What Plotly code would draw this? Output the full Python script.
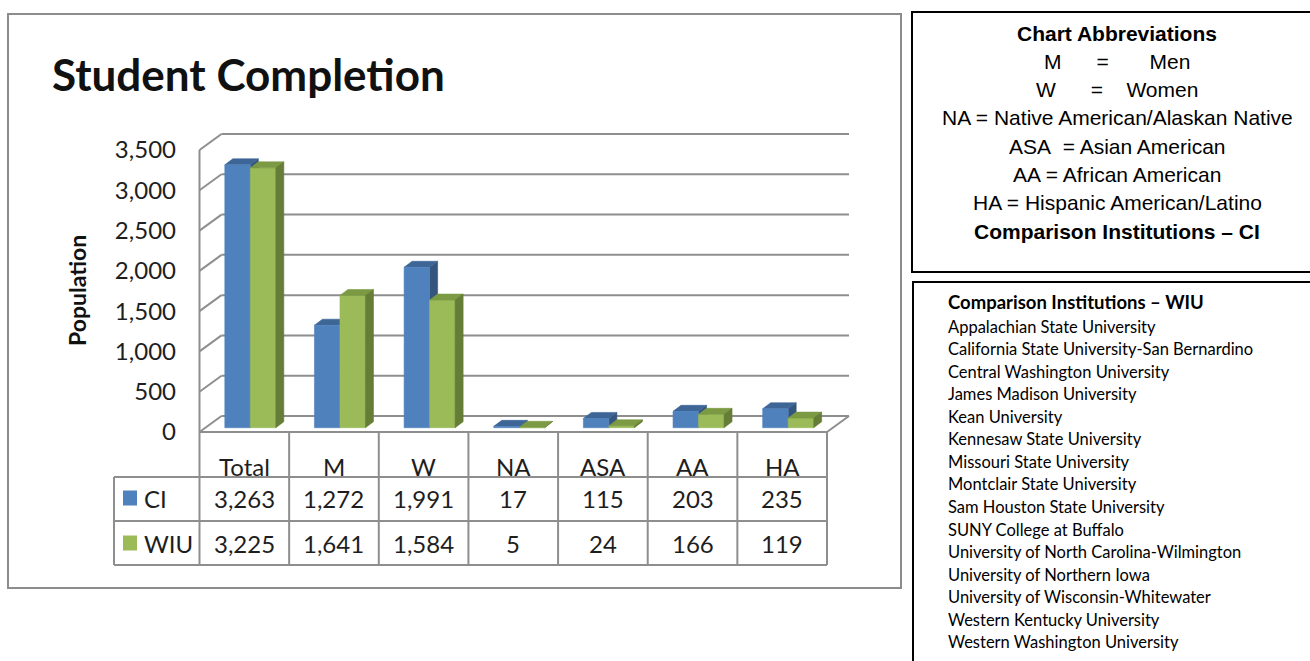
import plotly.graph_objects as go

# ---------------- data ----------------
categories = ["Total", "M", "W", "NA", "ASA", "AA", "HA"]
ci_values = [3263, 1272, 1991, 17, 115, 203, 235]
wiu_values = [3225, 1641, 1584, 5, 24, 166, 119]
series_names = ["CI", "WIU"]
y_ticks = [0, 500, 1000, 1500, 2000, 2500, 3000, 3500]
chart_title = "Student Completion"
y_title = "Population"

abbrev_lines = [
    "<b>Chart Abbreviations</b>",
    "M\u00a0\u00a0\u00a0\u00a0\u00a0\u00a0=\u00a0\u00a0\u00a0\u00a0\u00a0\u00a0\u00a0Men",
    "W\u00a0\u00a0\u00a0\u00a0\u00a0\u00a0=\u00a0\u00a0\u00a0\u00a0Women",
    "NA = Native American/Alaskan Native",
    "ASA\u00a0 = Asian American",
    "AA = African American",
    "HA = Hispanic American/Latino",
    "<b>Comparison Institutions \u2013 CI</b>",
]
wiu_title = "Comparison Institutions \u2013 WIU"
institutions = [
    "Appalachian State University",
    "California State University-San Bernardino",
    "Central Washington University",
    "James Madison University",
    "Kean University",
    "Kennesaw State University",
    "Missouri State University",
    "Montclair State University",
    "Sam Houston State University",
    "SUNY College at Buffalo",
    "University of North Carolina-Wilmington",
    "University of Northern Iowa",
    "University of Wisconsin-Whitewater",
    "Western Kentucky University",
    "Western Washington University",
]

# ---------------- geometry (pixels) ----------------
W, H = 1310, 661
FLOOR_L, FLOOR_R = 199.5, 827.0
ZERO_Y = 432.0
KV = 282.0 / 3500.0                      # px per value unit
U = (FLOOR_R - FLOOR_L) / len(categories)  # px per category
AX_L, AX_R, AX_T, AX_B = 177.0, 905.0, 100.0, 600.0


def px_x(c):
    return FLOOR_L + (c + 0.5) * U


def pxx(p):
    return p / W


def pxy(p):
    return 1 - p / H


# depth offsets in data units
BX, BY = 22.0 / U, 16.0 / KV          # back wall
SX, SY = 6.0 / U, 4.3 / KV            # bar front plane
DDX, DDY = 8.0 / U, 6.0 / KV          # bar depth
BW = 25.5 / U                         # bar width

xr = [-0.5 + (AX_L - FLOOR_L) / U, -0.5 + (AX_R - FLOOR_L) / U]
yr = [(ZERO_Y - AX_B) / KV, (ZERO_Y - AX_T) / KV]

GRID = "#8e8e8e"
fig = go.Figure()

# ---------------- 3D walls / gridlines ----------------
n = len(categories)
gx, gy = [], []
for t in y_ticks:
    gx += [-0.5 + BX, n - 0.5 + BX, None]
    gy += [t + BY, t + BY, None]
    gx += [-0.5, -0.5 + BX, None]
    gy += [t, t + BY, None]
gx += [-0.5, -0.5, None, -0.5, n - 0.5, None, n - 0.5, n - 0.5 + BX, None]
gy += [y_ticks[-1], 0, None, 0, 0, None, 0, BY, None]
fig.add_trace(go.Scatter(x=gx, y=gy, mode="lines", line=dict(color=GRID, width=2),
                         hoverinfo="skip", showlegend=False))


# ---------------- bars ----------------
def faces(values, left_offset):
    fx, fy, tx, ty, sx_, sy_ = [], [], [], [], [], []
    for i, v in enumerate(values):
        xl = i + left_offset + SX
        xr_ = xl + BW
        b = SY
        top = SY + v
        fx += [xl, xr_, xr_, xl, xl, None]
        fy += [b, b, top, top, b, None]
        tx += [xl, xr_, xr_ + DDX, xl + DDX, xl, None]
        ty += [top, top, top + DDY, top + DDY, top, None]
        sx_ += [xr_, xr_ + DDX, xr_ + DDX, xr_, xr_, None]
        sy_ += [b, b + DDY, top + DDY, top, b, None]
    return (fx, fy), (tx, ty), (sx_, sy_)


def poly(xy, color, name):
    return go.Scatter(x=xy[0], y=xy[1], mode="lines", fill="toself", fillcolor=color,
                      line=dict(color=color, width=0.6), name=name,
                      hoverinfo="skip", showlegend=False)


ci_f, ci_t, ci_s = faces(ci_values, -BW)
wi_f, wi_t, wi_s = faces(wiu_values, 0.0)
fig.add_trace(poly(ci_s, "#34557e", "CI side"))
fig.add_trace(poly(ci_t, "#3d6596", "CI top"))
fig.add_trace(poly(ci_f, "#4f81bd", "CI"))
fig.add_trace(poly(wi_f, "#9bbb59", "WIU"))
fig.add_trace(poly(wi_t, "#7b9a43", "WIU top"))
fig.add_trace(poly(wi_s, "#657d36", "WIU side"))

shapes = []
annotations = []

# ---------------- outer chart border ----------------
shapes.append(dict(type="rect", xref="paper", yref="paper",
                   x0=pxx(8), x1=pxx(901), y0=pxy(14), y1=pxy(588),
                   line=dict(color="#8c8c8c", width=2)))

# ---------------- data table ----------------
ROW_TOP, ROW1, ROW2, ROW_BOT = ZERO_Y, 477.0, 521.0, 565.0
LEG_L = 114.0
for yy in (ROW1, ROW2, ROW_BOT):
    shapes.append(dict(type="line", xref="paper", yref="paper",
                       x0=pxx(LEG_L), x1=pxx(px_x(n - 0.5)), y0=pxy(yy), y1=pxy(yy),
                       line=dict(color=GRID, width=2)))
shapes.append(dict(type="line", xref="paper", yref="paper",
                   x0=pxx(LEG_L), x1=pxx(LEG_L), y0=pxy(ROW1), y1=pxy(ROW_BOT),
                   line=dict(color=GRID, width=2)))
for i in range(n + 1):
    xx = px_x(i - 0.5)
    shapes.append(dict(type="line", xref="paper", yref="paper",
                       x0=pxx(xx), x1=pxx(xx), y0=pxy(ROW_TOP), y1=pxy(ROW_BOT),
                       line=dict(color=GRID, width=2)))

TFONT = dict(family="Lato", size=24, color="#1e1e1e")
row_centers = [(ROW1 + ROW2) / 2 - 1, (ROW2 + ROW_BOT) / 2]
for i, c in enumerate(categories):
    annotations.append(dict(x=i, y=pxy(466), xref="x", yref="paper", text=c,
                            showarrow=False, font=TFONT, xanchor="center", yanchor="middle"))
    for r, vals in enumerate((ci_values, wiu_values)):
        annotations.append(dict(x=i, y=pxy(row_centers[r]), xref="x", yref="paper",
                                text=f"{vals[i]:,}", showarrow=False, font=TFONT,
                                xanchor="center", yanchor="middle"))
for r, (nm, col) in enumerate(zip(series_names, ["#4f81bd", "#9bbb59"])):
    cy = row_centers[r]
    shapes.append(dict(type="rect", xref="paper", yref="paper",
                       x0=pxx(123), x1=pxx(137), y0=pxy(cy - 7.5), y1=pxy(cy + 7.5),
                       fillcolor=col, line=dict(width=0)))
    annotations.append(dict(x=pxx(142), y=pxy(cy), xref="paper", yref="paper", text=nm,
                            showarrow=False, font=TFONT, xanchor="left", yanchor="middle"))

# ---------------- titles ----------------
annotations.append(dict(x=pxx(50), y=pxy(74), xref="paper", yref="paper", text=f"<b>{chart_title}</b>",
                        showarrow=False, font=dict(family="Lato", size=44, color="#111"),
                        xanchor="left", yanchor="middle"))
annotations.append(dict(x=pxx(77), y=pxy(291), xref="paper", yref="paper", text=f"<b>{y_title}</b>",
                        showarrow=False, textangle=-90, font=dict(family="Lato", size=23, color="#111"),
                        xanchor="center", yanchor="middle"))

# ---------------- right boxes ----------------
shapes.append(dict(type="rect", xref="paper", yref="paper",
                   x0=pxx(912), x1=pxx(1320), y0=pxy(12), y1=pxy(272),
                   line=dict(color="#000", width=2)))
shapes.append(dict(type="rect", xref="paper", yref="paper",
                   x0=pxx(913), x1=pxx(1320), y0=pxy(282), y1=pxy(670),
                   line=dict(color="#000", width=2)))
for k, line in enumerate(abbrev_lines):
    annotations.append(dict(x=pxx(1117), y=pxy(33 + k * 28.3), xref="paper", yref="paper",
                            text=line, showarrow=False,
                            font=dict(family="Liberation Sans", size=21, color="#000"),
                            xanchor="center", yanchor="middle"))
annotations.append(dict(x=pxx(946), y=pxy(302), xref="paper", yref="paper",
                        text=f"<b>{wiu_title}</b>", showarrow=False,
                        font=dict(family="Lato", size=18.5, color="#000"),
                        xanchor="left", yanchor="middle"))
for k, name in enumerate(institutions):
    annotations.append(dict(x=pxx(946), y=pxy(327 + k * 22.5), xref="paper", yref="paper",
                            text=name, showarrow=False,
                            font=dict(family="Lato", size=16.5, color="#000"),
                            xanchor="left", yanchor="middle"))

fig.update_layout(
    width=W, height=H,
    margin=dict(l=0, r=0, t=0, b=0),
    paper_bgcolor="white", plot_bgcolor="white",
    showlegend=False,
    xaxis=dict(domain=[pxx(AX_L), pxx(AX_R)], range=xr, visible=False, fixedrange=True),
    yaxis=dict(domain=[pxy(AX_B), pxy(AX_T)], range=yr, showgrid=False, zeroline=False,
               showline=False, ticks="", tickvals=y_ticks,
               ticktext=[f"{t:,}" for t in y_ticks],
               tickfont=dict(family="Lato", size=24, color="#1e1e1e"), fixedrange=True),
    shapes=shapes,
    annotations=annotations,
)

fig.write_html("out.html")
